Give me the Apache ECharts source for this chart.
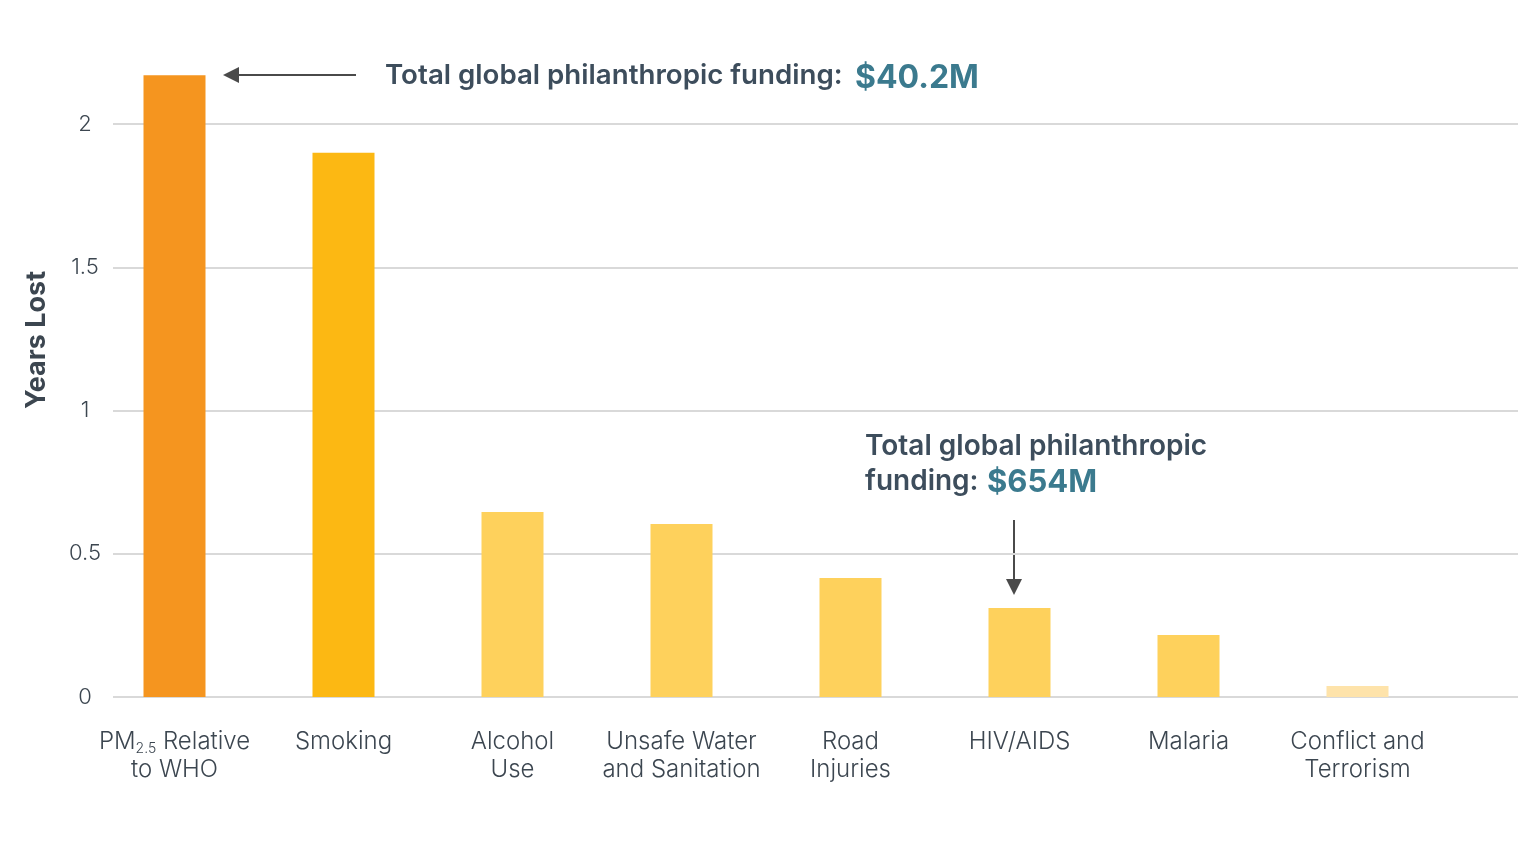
<!DOCTYPE html>
<html>
<head>
<meta charset="utf-8">
<script src="https://cdn.jsdelivr.net/npm/echarts@6/dist/echarts.min.js"></script>
<style>
  html, body { margin: 0; padding: 0; background: #fff; }
  #chart { width: 1518px; height: 852px; }
</style>
</head>
<body>
<div id="chart"></div>
<script>
var categories = ['PM2.5 Relative\nto WHO', 'Smoking', 'Alcohol\nUse', 'Unsafe Water\nand Sanitation', 'Road\nInjuries', 'HIV/AIDS', 'Malaria', 'Conflict and\nTerrorism'];
var yearsLost = [2.17, 1.90, 0.646, 0.604, 0.415, 0.311, 0.216, 0.038];
var barColors = ['#F5951F', '#FCB813', '#FED15C', '#FED15C', '#FED15C', '#FED15C', '#FED15C', '#FEE3AA'];
var yTicks = [0, 0.5, 1, 1.5, 2];

var font = 'Inter';
var textColor = '#3c4650';
var yMax = 2.2;

var myChart = echarts.init(document.getElementById('chart'));

myChart.setOption({
    animation: false,
    grid: [
        // gridlines + y labels
        { left: 113, right: 0, top: 66.7, bottom: 155 },
        // bars
        { left: 90, width: 1352, top: 66.7, bottom: 155 }
    ],
    xAxis: [
        { gridIndex: 0, type: 'value', show: false },
        {
            gridIndex: 1,
            type: 'category',
            data: categories,
            axisLine: { show: false },
            axisTick: { show: false },
            axisLabel: {
                interval: 0,
                margin: 31,
                fontFamily: font,
                fontSize: 24,
                fontWeight: 300,
                lineHeight: 28,
                color: textColor,
                formatter: function (v) {
                    if (v.indexOf('PM2.5') === 0) {
                        return 'PM{sub|2.5} Relative\nto WHO';
                    }
                    return v;
                },
                rich: {
                    sub: { fontFamily: font, fontSize: 14, fontWeight: 300, color: textColor, verticalAlign: 'bottom', padding: [22, 0, 0, 0], lineHeight: 28 }
                }
            }
        }
    ],
    yAxis: [
        {
            gridIndex: 0,
            type: 'value',
            min: 0,
            max: yMax,
            interval: 0.5,
            axisLine: { show: false },
            axisTick: { show: false },
            axisLabel: {
                margin: 28,
                align: 'center',
                showMaxLabel: false,
                fontFamily: font,
                fontSize: 22,
                fontWeight: 300,
                color: textColor,
                formatter: function (v) { return yTicks.indexOf(v) >= 0 ? String(v) : ''; }
            },
            splitLine: { show: true, showMaxLine: false, lineStyle: { color: '#d9d9d9', width: 2 } }
        },
        {
            gridIndex: 1,
            type: 'value',
            min: 0,
            max: yMax,
            show: false
        }
    ],
    series: [
        {
            type: 'bar',
            xAxisIndex: 1,
            yAxisIndex: 1,
            barWidth: 62,
            z: 3,
            data: yearsLost.map(function (v, i) {
                return { value: v, itemStyle: { color: barColors[i] } };
            })
        }
    ],
    graphic: [
        {
            type: 'text', x: 37, y: 340, rotation: Math.PI / 2,
            style: { text: 'Years Lost', fontFamily: font, fontSize: 27, fontWeight: 700, fill: '#3c4650', align: 'center', verticalAlign: 'middle' }
        },
        // arrow to PM2.5 bar
        { type: 'line', shape: { x1: 356, y1: 75, x2: 232, y2: 75 }, style: { stroke: '#4a4a4a', lineWidth: 2 } },
        { type: 'polygon', shape: { points: [[223, 75], [239, 67], [239, 83]] }, style: { fill: '#4a4a4a' } },
        {
            type: 'text', x: 385, y: 76,
            style: { text: 'Total global philanthropic funding:', fontFamily: font, fontSize: 27.7, fontWeight: 600, fill: '#3d4d5c', verticalAlign: 'middle' }
        },
        {
            type: 'text', x: 855, y: 78,
            style: { text: '$40.2M', fontFamily: font, fontSize: 32, fontWeight: 700, fill: '#3b7a8e', verticalAlign: 'middle' }
        },
        // arrow to HIV/AIDS bar
        { type: 'line', shape: { x1: 1014, y1: 520, x2: 1014, y2: 584 }, style: { stroke: '#4a4a4a', lineWidth: 2 } },
        { type: 'polygon', shape: { points: [[1014, 595], [1006, 579], [1022, 579]] }, style: { fill: '#4a4a4a' } },
        {
            type: 'text', x: 865, y: 447,
            style: { text: 'Total global philanthropic', fontFamily: font, fontSize: 28, fontWeight: 600, fill: '#3d4d5c', verticalAlign: 'middle' }
        },
        {
            type: 'text', x: 865, y: 482,
            style: { text: 'funding:', fontFamily: font, fontSize: 28, fontWeight: 600, fill: '#3d4d5c', verticalAlign: 'middle' }
        },
        {
            type: 'text', x: 987, y: 483,
            style: { text: '$654M', fontFamily: font, fontSize: 31, fontWeight: 700, fill: '#3b7a8e', verticalAlign: 'middle' }
        }
    ]
});
</script>
</body>
</html>
